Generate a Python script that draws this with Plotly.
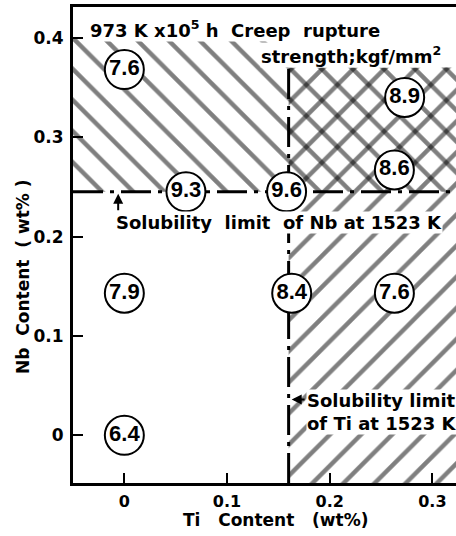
import plotly.graph_objects as go

# ---- data ----
ti_content = [0.0, 0.06, 0.158, 0.273, 0.263, 0.0, 0.163, 0.263, 0.0]
nb_content = [0.368, 0.245, 0.245, 0.34, 0.267, 0.143, 0.143, 0.143, 0.0]
strength = ["7.6", "9.3", "9.6", "8.9", "8.6", "7.9", "8.4", "7.6", "6.4"]

TI_LIMIT = 0.16     # solubility limit of Ti at 1523 K
NB_LIMIT = 0.245    # solubility limit of Nb at 1523 K

X_RANGE = [-0.05, 0.323]
Y_RANGE = [-0.048, 0.431]
x_ticks = [0, 0.1, 0.2, 0.3]
x_tick_labels = ["0", "0.1", "0.2", "0.3"]
y_ticks = [0, 0.1, 0.2, 0.3, 0.4]
y_tick_labels = ["0", "0.1", "0.2", "0.3", "0.4"]

HATCH_TOP_LEFT = 0.40
HATCH_TOP_RIGHT = 0.37

FONT = "DejaVu Sans"
NB = "\u00a0"
fig = go.Figure()

pat = dict(fgcolor="black", bgcolor="rgba(0,0,0,0)", size=22, solidity=0.2)

# "\" hatching above Nb limit
fig.add_trace(go.Scatter(
    x=[X_RANGE[0], TI_LIMIT, TI_LIMIT, X_RANGE[1], X_RANGE[1], X_RANGE[0], X_RANGE[0]],
    y=[HATCH_TOP_LEFT, HATCH_TOP_LEFT, HATCH_TOP_RIGHT, HATCH_TOP_RIGHT, NB_LIMIT, NB_LIMIT, HATCH_TOP_LEFT],
    mode="lines", line=dict(width=0), fill="toself", fillcolor="rgba(0,0,0,0)",
    fillpattern=dict(shape="\\", **pat), hoverinfo="skip", showlegend=False))

# "/" hatching right of Ti limit
fig.add_trace(go.Scatter(
    x=[TI_LIMIT, X_RANGE[1], X_RANGE[1], TI_LIMIT, TI_LIMIT],
    y=[Y_RANGE[0], Y_RANGE[0], HATCH_TOP_RIGHT, HATCH_TOP_RIGHT, Y_RANGE[0]],
    mode="lines", line=dict(width=0), fill="toself", fillcolor="rgba(0,0,0,0)",
    fillpattern=dict(shape="/", **pat), hoverinfo="skip", showlegend=False))

dash = "30px,7px,4px,7px"
# Nb solubility line
fig.add_trace(go.Scatter(x=[X_RANGE[0], X_RANGE[1]], y=[NB_LIMIT, NB_LIMIT], mode="lines",
                         line=dict(color="black", width=3, dash=dash), hoverinfo="skip", showlegend=False))
# Ti solubility line
fig.add_trace(go.Scatter(x=[TI_LIMIT, TI_LIMIT], y=[Y_RANGE[0], HATCH_TOP_RIGHT], mode="lines",
                         line=dict(color="black", width=3, dash=dash), hoverinfo="skip", showlegend=False))

# circled values
fig.add_trace(go.Scatter(
    x=ti_content, y=nb_content, mode="markers+text", text=strength,
    textposition="middle center",
    textfont=dict(family="Liberation Sans", size=22, color="black", weight="bold"),
    marker=dict(symbol="circle", size=39, color="white", line=dict(color="black", width=2)),
    hoverinfo="skip", showlegend=False))

tf = dict(family=FONT, size=16, color="black", weight="bold")
af = dict(family=FONT, size=18, color="black", weight="bold")
ann = []
ann.append(dict(x=-0.034, y=0.409, xref="x", yref="y", xanchor="left", yanchor="middle",
                text=f"973 K x10<sup>5</sup> h {NB}Creep {NB}rupture", showarrow=False, font=af,
                bgcolor="white", borderpad=0))
ann.append(dict(x=0.309, y=0.383, xref="x", yref="y", xanchor="right", yanchor="middle",
                text="strength;kgf/mm<sup>2</sup>", showarrow=False, font=af,
                bgcolor="white", borderpad=0))
ann.append(dict(x=-0.009, y=0.214, xref="x", yref="y", xanchor="left", yanchor="middle",
                text=f"Solubility {NB}limit {NB}of Nb at 1523 K", showarrow=False, font=af,
                bgcolor="white", borderpad=0))
ann.append(dict(x=0.177, y=0.023, xref="x", yref="y", xanchor="left", yanchor="middle",
                align="left", text="Solubility limit<br>of Ti at 1523 K", showarrow=False, font=af,
                bgcolor="white", borderpad=0))
# arrows
ann.append(dict(x=-0.006, y=NB_LIMIT - 0.002, ax=-0.006, ay=0.225, xref="x", yref="y",
                axref="x", ayref="y", text="", showarrow=True, arrowhead=2, arrowsize=1,
                arrowwidth=2, arrowcolor="black"))
ann.append(dict(x=TI_LIMIT + 0.003, y=0.036, ax=0.177, ay=0.036, xref="x", yref="y",
                axref="x", ayref="y", text="", showarrow=True, arrowhead=2, arrowsize=1,
                arrowwidth=2, arrowcolor="black"))
# axis titles
ann.append(dict(x=0.53, y=0, xref="paper", yref="paper", yshift=-37, xanchor="center",
                yanchor="middle", text=f"Ti {NB}{NB}Content {NB}{NB}(wt%)", showarrow=False,
                font=dict(family=FONT, size=17, color="black", weight="bold")))
ann.append(dict(x=0, y=0.433, xref="paper", yref="paper", xshift=-50, xanchor="center",
                yanchor="middle", text=f"Nb {NB}Content {NB}( wt% )", textangle=-90,
                showarrow=False, font=dict(family=FONT, size=17, color="black", weight="bold")))

fig.update_layout(
    width=456, height=536,
    margin=dict(l=73, r=0, t=7, b=53),
    plot_bgcolor="white", paper_bgcolor="white",
    annotations=ann,
    xaxis=dict(range=X_RANGE, tickvals=x_ticks, ticktext=x_tick_labels, showgrid=False,
               zeroline=False, showline=True, linecolor="black", linewidth=3, mirror=True,
               ticks="inside", ticklen=10, tickwidth=2, tickcolor="black",
               tickfont=tf, ticklabelstandoff=2),
    yaxis=dict(range=Y_RANGE, tickvals=y_ticks, ticktext=y_tick_labels, showgrid=False,
               zeroline=False, showline=True, linecolor="black", linewidth=3,
               ticks="inside", ticklen=10, tickwidth=2, tickcolor="black",
               tickfont=dict(family=FONT, size=17, color="black", weight="bold"),
               ticklabelstandoff=3),
)

fig.write_html("out.html")
